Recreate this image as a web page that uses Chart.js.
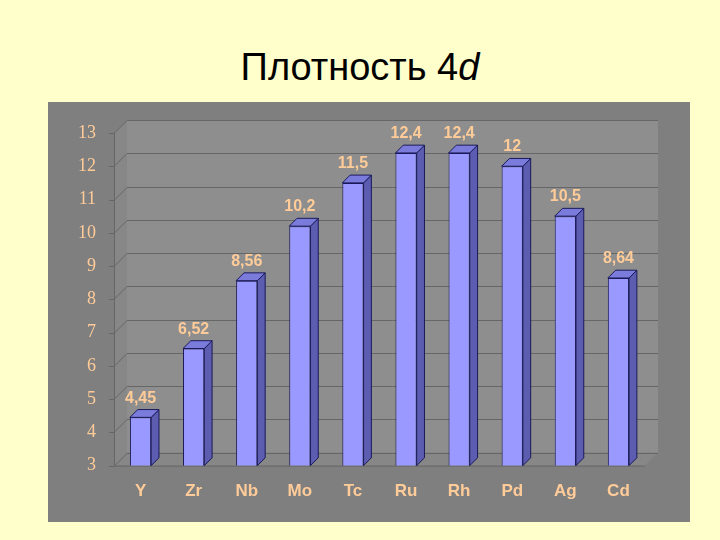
<!DOCTYPE html>
<html><head><meta charset="utf-8">
<script src="https://cdn.jsdelivr.net/npm/chart.js@4"></script>
<style>
body{margin:0;width:720px;height:540px;background:#ffffcc;position:relative;overflow:hidden;font-family:Arial,"Liberation Sans",sans-serif}
#title{position:absolute;left:0;width:720px;top:46px;text-align:center;font-size:38px;color:#000}
#box{position:absolute;left:48px;top:102px;width:642px;height:420px;background:#7f7f7f}
</style></head><body>
<div id="title">Плотность 4<i>d</i></div>
<div id="box"><canvas id="myChart" width="642" height="420"></canvas></div>
<script>
const labels = ['Y','Zr','Nb','Mo','Tc','Ru','Rh','Pd','Ag','Cd'];
const values = [4.45, 6.52, 8.56, 10.2, 11.5, 12.4, 12.4, 12, 10.5, 8.64];
const valueLabels = ['4,45','6,52','8,56','10,2','11,5','12,4','12,4','12','10,5','8,64'];
const D = 13; // depth of the 3D look

//draws back wall, floor and grid before the bars
const wall = {
  id: 'wall',
  beforeDatasetsDraw(chart) {
    const c = chart.ctx, a = chart.chartArea, y = chart.scales.y;
    c.save();
    c.fillStyle = '#8e8e8e';
    c.fillRect(a.left + D, a.top - D, a.right - a.left, a.bottom - a.top);
    c.fillStyle = '#878787';
    c.beginPath();
    c.moveTo(a.left, a.top); c.lineTo(a.left + D, a.top - D);
    c.lineTo(a.left + D, a.bottom - D); c.lineTo(a.left, a.bottom); c.fill();
    c.beginPath();
    c.moveTo(a.left, a.bottom); c.lineTo(a.left + D, a.bottom - D);
    c.lineTo(a.right + D, a.bottom - D); c.lineTo(a.right, a.bottom); c.fill();
    c.strokeStyle = '#666'; c.lineWidth = 1;
    for (let v = 3; v <= 13; v++) {
      const py = Math.round(y.getPixelForValue(v)) + 0.5;
      c.beginPath();
      c.moveTo(a.left - 5, py); c.lineTo(a.left, py);
      c.lineTo(a.left + D, py - D); c.lineTo(a.right + D, py - D); c.stroke();
    }
    c.beginPath();
    c.moveTo(a.left + 0.5, a.top); c.lineTo(a.left + 0.5, a.bottom);
    c.moveTo(a.left, a.bottom + 0.5); c.lineTo(a.right, a.bottom + 0.5); c.stroke();
    c.restore();
  },
  afterDatasetsDraw(chart) {
    const c = chart.ctx, d = D * 0.6, a = chart.chartArea;
    c.save();
    c.strokeStyle = '#1a1a5a'; c.lineWidth = 1;
    chart.getDatasetMeta(0).data.forEach((b, i) => {
      const l = b.x - b.width / 2, r = b.x + b.width / 2, t = b.y, bt = Math.min(b.base, a.bottom);
      c.fillStyle = '#5c5cb0';
      c.beginPath();
      c.moveTo(r, t); c.lineTo(r + d, t - d); c.lineTo(r + d, bt - d); c.lineTo(r, bt);
      c.closePath(); c.fill(); c.stroke();
      c.fillStyle = '#7b7bdc';
      c.beginPath();
      c.moveTo(l, t); c.lineTo(l + d, t - d); c.lineTo(r + d, t - d); c.lineTo(r, t);
      c.closePath(); c.fill(); c.stroke();
      c.fillStyle = '#ffcc99';
      c.font = 'bold 16px Arial';
      c.textAlign = 'center';
      c.fillText(valueLabels[i], b.x, t - d - 7);
    });
    c.restore();
  }
};

new Chart(document.getElementById('myChart'), {
  type: 'bar',
  data: {
    labels: labels,
    datasets: [{
      data: values,
      backgroundColor: '#9999ff',
      borderColor: '#1a1a5a',
      borderWidth: 1,
      categoryPercentage: 0.8,
      barPercentage: 0.5
    }]
  },
  options: {
    responsive: false,
    animation: false,
    layout: { padding: { top: 31, right: 45, left: 20, bottom: 12 } },
    plugins: { legend: { display: false }, tooltip: { enabled: false } },
    scales: {
      x: {
        grid: { display: false }, border: { display: false },
        ticks: { color: '#ffcc99', font: { family: 'Arial', size: 17, weight: 'bold' }, padding: 8 }
      },
      y: {
        min: 3, max: 13,
        grid: { display: false }, border: { display: false },
        ticks: { stepSize: 1, color: '#ffcc99', font: { family: "'Liberation Serif', serif", size: 18 }, padding: 10 }
      }
    }
  },
  plugins: [wall]
});
</script>
</body></html>
